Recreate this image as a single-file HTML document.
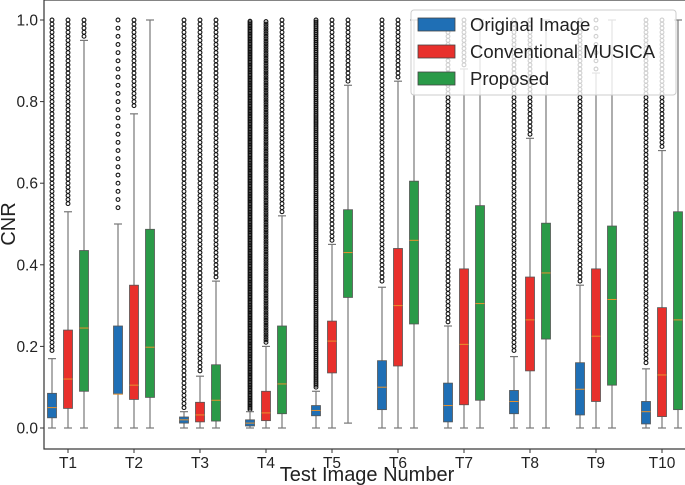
<!DOCTYPE html>
<html><head><meta charset="utf-8"><style>
body{margin:0;background:#fff;}
svg{display:block;font-family:"Liberation Sans","DejaVu Sans",sans-serif;}
</style></head><body>
<svg id="chart" width="685" height="485">
<g id="plot"></g>
</svg>
<script>
const categories=["T1","T2","T3","T4","T5","T6","T7","T8","T9","T10"];
const seriesNames=["Original Image","Conventional MUSICA","Proposed"];
const seriesColors=["#1f6fb5","#e8302c","#2a9a48"];
// [whiskerLow, q1, median, q3, whiskerHigh, outlierStart, outlierStep]
const originalStats=[[0,0.025,0.05,0.085,0.17,0.19,0.01],[0,0.083,0.083,0.25,0.5,0.54,0.02],[0,0.012,0.02,0.027,0.04,0.05,0.01],[0,0.005,0.012,0.02,0.04,0.045,0.004],[0,0.03,0.043,0.055,0.09,0.1,0.005],[0,0.045,0.1,0.165,0.345,0.36,0.01],[0,0.015,0.055,0.11,0.25,0.26,0.01],[0,0.035,0.065,0.092,0.175,0.19,0.01],[0,0.032,0.095,0.16,0.35,0.36,0.01],[0,0.01,0.04,0.065,0.145,0.16,0.01]];
const musicaStats=[[0,0.048,0.12,0.24,0.53,0.55,0.01],[0,0.07,0.105,0.35,0.77,0.79,0.01],[0,0.015,0.032,0.063,0.127,0.14,0.01],[0,0.018,0.037,0.09,0.2,0.21,0.006],[0,0.135,0.213,0.262,0.45,0.46,0.01],[0,0.152,0.3,0.44,0.85,0.86,0.01],[0,0.057,0.205,0.39,0.88,0.89,0.01],[0,0.14,0.265,0.37,0.71,0.72,0.01],[0,0.065,0.225,0.39,0.87,0.88,0.02],[0,0.028,0.13,0.295,0.68,0.69,0.01]];
const proposedStats=[[0,0.09,0.245,0.435,0.95,0.96,0.01],[0,0.075,0.198,0.487,1.0,2,0.01],[0,0.017,0.068,0.155,0.36,0.37,0.01],[0,0.035,0.108,0.25,0.52,0.53,0.01],[0.012,0.32,0.43,0.535,0.84,0.85,0.01],[0,0.255,0.46,0.605,1.0,2,0.01],[0,0.068,0.305,0.545,1.0,2,0.01],[0,0.218,0.38,0.502,1.0,2,0.01],[0,0.105,0.315,0.495,1.0,2,0.01],[0,0.045,0.265,0.53,1.0,2,0.01]];
const yTicks=[0.0,0.2,0.4,0.6,0.8,1.0];
const allStats=[originalStats,musicaStats,proposedStats];

const NS="http://www.w3.org/2000/svg";
const plot=document.getElementById('plot');
const X0=44,Y0=449,XR=690,YT=0;
const yScale=v=>428-v*408;
const xScale=i=>68+i*66.0;
const offsets=[-16,0,16];
function mk(tag,attrs,parent){const e=document.createElementNS(NS,tag);for(const k in attrs)e.setAttribute(k,attrs[k]);(parent||plot).appendChild(e);return e;}

let fr=mk('rect',{x:X0,y:YT,width:XR-X0,height:Y0-YT,fill:'none',stroke:'#333','stroke-width':1.2});



yTicks.forEach(t=>{
  const y=yScale(t);
  let l=mk('line',{x1:X0-4,x2:X0,y1:y,y2:y,stroke:'#333'});
  
  
  let tx=mk('text',{x:X0-6,y:y+5.5,'text-anchor':'end','font-size':15.5,fill:'#222'});
  tx.textContent=t.toFixed(1);
  
  
});
categories.forEach((c,i)=>{
  const x=xScale(i);
  let l=mk('line',{x1:x,x2:x,y1:Y0,y2:Y0+4,stroke:'#333'});
  
  
  let tx=mk('text',{x:x,y:Y0+19,'text-anchor':'middle','font-size':15.5,fill:'#222'});
  tx.textContent=c;
  
  
});
let xt=mk('text',{x:367,y:481,'text-anchor':'middle','font-size':20,fill:'#222'});
xt.textContent='Test Image Number';


let yt=mk('text',{x:0,y:0,'text-anchor':'middle','font-size':20,fill:'#222',transform:'translate(15,224) rotate(-90)'});
yt.textContent='CNR';



allStats.forEach((stats,s)=>{
  stats.forEach((d,i)=>{
    const cx=xScale(i)+offsets[s];
    const [wl,q1,md,q3,wh,os,st]=d;
    const g=mk('g',{});
    
    
    for(let v=os;v<=1.0001;v+=st){mk('circle',{cx:cx,cy:yScale(v),r:1.9,fill:'none',stroke:'#111','stroke-width':1.1},g);}
    mk('line',{x1:cx,x2:cx,y1:yScale(wl),y2:yScale(q1),stroke:'#777','stroke-width':1.2},g);
    mk('line',{x1:cx,x2:cx,y1:yScale(q3),y2:yScale(wh),stroke:'#777','stroke-width':1.2},g);
    mk('line',{x1:cx-4,x2:cx+4,y1:yScale(wl),y2:yScale(wl),stroke:'#777','stroke-width':1.2},g);
    mk('line',{x1:cx-4,x2:cx+4,y1:yScale(wh),y2:yScale(wh),stroke:'#777','stroke-width':1.2},g);
    mk('rect',{x:cx-4.5,y:yScale(q3),width:9,height:Math.max(1,yScale(q1)-yScale(q3)),fill:seriesColors[s],stroke:'#555','stroke-width':0.8},g);
    mk('line',{x1:cx-4.5,x2:cx+4.5,y1:yScale(md),y2:yScale(md),stroke:'#e8922c','stroke-width':1},g);
  });
});

const lg=mk('g',{});


mk('rect',{x:411,y:10,width:265,height:85,rx:3,fill:'rgba(255,255,255,0.8)',stroke:'#ccc'},lg);
seriesNames.forEach((n,k)=>{
  const e=mk('g',{},lg);
  
  
  mk('rect',{x:418,y:18+k*27,width:37,height:13,fill:seriesColors[k],stroke:'#444','stroke-width':0.8},e);
  const t=mk('text',{x:470,y:31+k*27,'font-size':18.5,fill:'#222'},e);
  t.textContent=n;
});
</script>
</body></html>
